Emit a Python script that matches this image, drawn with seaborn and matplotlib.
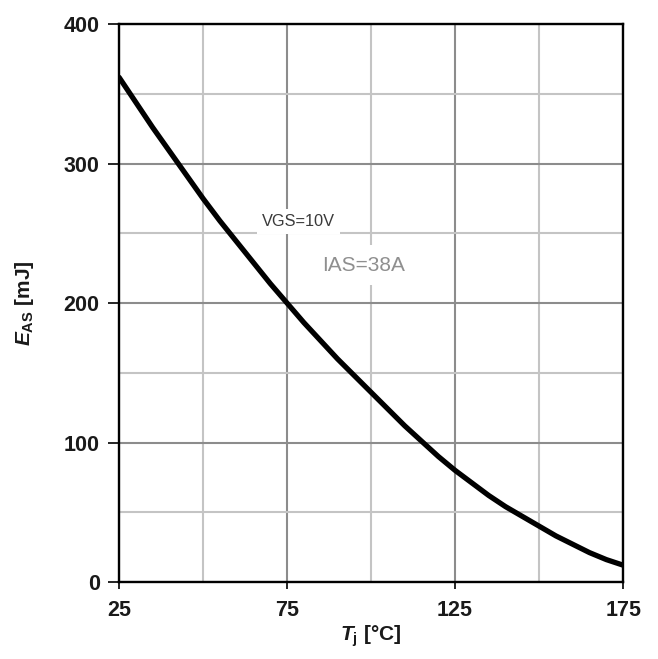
import matplotlib
matplotlib.use("Agg")
import matplotlib.pyplot as plt
from matplotlib.ticker import FixedLocator
import seaborn as sns
import pandas as pd

# Data
tj = [25, 30, 35, 40, 45, 50, 55, 60, 65, 70, 75, 80, 85, 90, 95, 100,
      105, 110, 115, 120, 125, 130, 135, 140, 145, 150, 155, 160, 165, 170, 175]
eas = [362, 344, 326, 309, 292, 275, 259, 244, 229, 214, 200, 186, 173, 160, 148, 136,
       124, 112, 101, 90, 80, 71, 62, 54, 47, 40, 33, 27, 21, 16, 12]
x_ticks = [25, 75, 125, 175]
y_ticks = [0, 100, 200, 300, 400]
x_minor = [50, 100, 150]
y_minor = [50, 150, 250, 350]

sns.set_theme(style="white")
plt.rcParams['font.family'] = ['Liberation Sans', 'DejaVu Sans']
plt.rcParams['mathtext.fontset'] = 'custom'
plt.rcParams['mathtext.rm'] = 'Liberation Sans:bold'
plt.rcParams['mathtext.bf'] = 'Liberation Sans:bold'
plt.rcParams['mathtext.it'] = 'Liberation Sans:bold:italic'

df = pd.DataFrame({"Tj": tj, "EAS": eas})

fig = plt.figure(figsize=(6.58, 6.59), dpi=100)
ax = fig.add_axes([0.181, 0.117, 0.766, 0.846])

sns.lineplot(data=df, x="Tj", y="EAS", ax=ax, color="black", linewidth=3.8)

ax.set_xlim(25, 175)
ax.set_ylim(0, 400)
ax.xaxis.set_major_locator(FixedLocator(x_ticks))
ax.yaxis.set_major_locator(FixedLocator(y_ticks))
ax.xaxis.set_minor_locator(FixedLocator(x_minor))
ax.yaxis.set_minor_locator(FixedLocator(y_minor))

ax.grid(which='major', color='#8c8c8c', linewidth=1.5)
ax.grid(which='minor', color='#c4c4c4', linewidth=1.5)
ax.set_axisbelow(True)

for s in ax.spines.values():
    s.set_color('black')
    s.set_linewidth(1.7)
    s.set_visible(True)

ax.tick_params(axis='x', which='major', direction='out', length=5, width=1.2,
               color='black', bottom=True, pad=8, labelsize=15.5)
ax.tick_params(axis='y', which='major', direction='out', length=8, width=1.2,
               color='black', left=True, pad=6, labelsize=15.5)
ax.tick_params(which='minor', length=0)
for lab in ax.get_xticklabels() + ax.get_yticklabels():
    lab.set_fontweight('bold')
    lab.set_color('#1a1a1a')

ax.set_xlabel(r'$\mathit{T}_{\mathrm{j}}$ [°C]', fontsize=15, fontweight='bold',
              labelpad=2, color='#1a1a1a')
ax.set_ylabel(r'$\mathit{E}_{\mathrm{AS}}$ [mJ]', fontsize=15, fontweight='bold',
              labelpad=20, color='#1a1a1a')

ax.text(78.3, 258.8, 'VGS=10V', fontsize=11.8, color='#3a3a3a', ha='center', va='center',
        bbox=dict(boxstyle='square,pad=0.3', facecolor='white', edgecolor='none'))
ax.text(97.9, 227.3, 'IAS=38A', fontsize=15, color='#8f8f8f', ha='center', va='center',
        bbox=dict(boxstyle='square,pad=0.5', facecolor='white', edgecolor='none'))

fig.savefig("out.png", dpi=100, facecolor='white')
